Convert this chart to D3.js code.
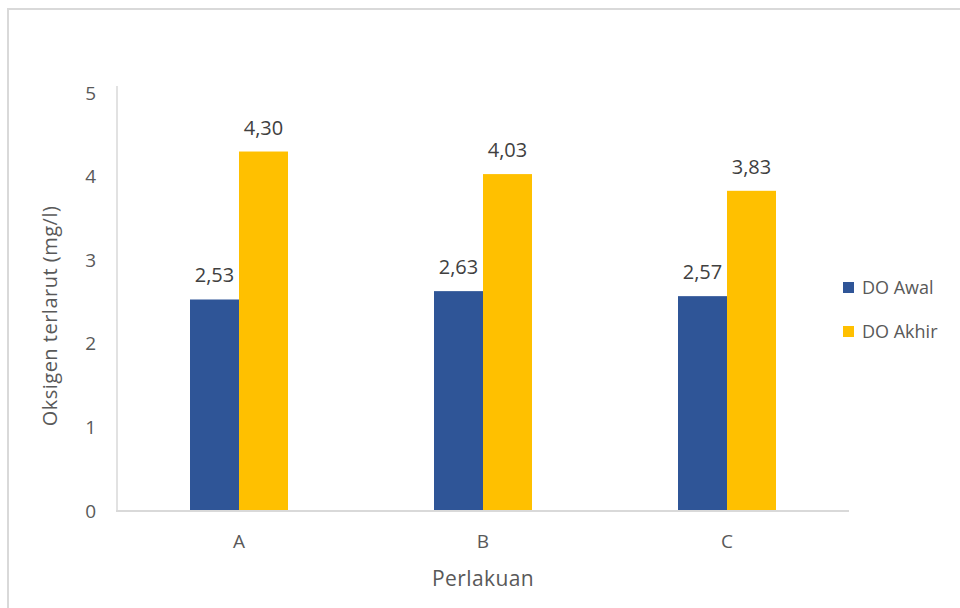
<!DOCTYPE html>
<html>
<head>
<meta charset="utf-8">
<script src="https://cdn.jsdelivr.net/npm/d3@7"></script>
<style>
  html, body { margin: 0; padding: 0; background: #fff; }
  svg { display: block; font-family: "Open Sans", sans-serif; }
</style>
</head>
<body>
<svg id="chart" width="960" height="608"></svg>
<script>
// Dissolved oxygen per treatment
const categories = ["A", "B", "C"];
const seriesNames = ["DO Awal", "DO Akhir"];
const doAwal = [2.53, 2.63, 2.57];
const doAkhir = [4.30, 4.03, 3.83];
const yTicks = [0, 1, 2, 3, 4, 5];
const colors = ["#2f5597", "#ffc000"];

const svg = d3.select("#chart");
const textColor = "#595959";
const gridColor = "#d9d9d9";

// Outer chart frame
svg.append("rect")
  .attr("x", 8).attr("y", 9).attr("width", 960).attr("height", 620)
  .attr("fill", "#fff").attr("stroke", gridColor).attr("stroke-width", 2);

const plotLeft = 117, plotRight = 849, plotTop = 93, plotBottom = 511;

const x = d3.scaleBand().domain(categories).range([plotLeft, plotRight]);
const y = d3.scaleLinear().domain([0, 5]).range([plotBottom, plotTop]);
const barW = 49;
const offsets = [-barW, 0];

// Vertical axis line
svg.append("line")
  .attr("x1", plotLeft).attr("x2", plotLeft).attr("y1", plotTop - 7).attr("y2", plotBottom)
  .attr("stroke", gridColor).attr("stroke-width", 1.5);

// Y tick labels
svg.append("g").selectAll("text").data(yTicks).join("text")
  .attr("x", 96).attr("y", d => y(d)).attr("dy", "0.35em")
  .attr("text-anchor", "end").attr("fill", textColor)
  .attr("font-size", 19).text(d => d);

// Bars with value labels
const series = [doAwal, doAkhir];
series.forEach((vals, si) => {
  const g = svg.append("g");
  g.selectAll("rect").data(categories).join("rect")
    .attr("x", (c) => x(c) + x.bandwidth() / 2 + offsets[si])
    .attr("y", (c, i) => y(vals[i]))
    .attr("width", barW)
    .attr("height", (c, i) => y(0) - y(vals[i]))
    .attr("fill", colors[si]);
  g.selectAll("text").data(categories).join("text")
    .attr("x", (c) => x(c) + x.bandwidth() / 2 + offsets[si] + barW / 2)
    .attr("y", (c, i) => y(vals[i]) - 24)
    .attr("dy", "0.35em")
    .attr("text-anchor", "middle").attr("fill", "#404040")
    .attr("font-size", 20)
    .text((c, i) => d3.format(".2f")(vals[i]).replace(".", ","));
});

// Category axis line
svg.append("line")
  .attr("x1", plotLeft - 1).attr("x2", plotRight).attr("y1", plotBottom).attr("y2", plotBottom)
  .attr("stroke", gridColor).attr("stroke-width", 2);

// X tick labels
svg.append("g").selectAll("text").data(categories).join("text")
  .attr("x", c => x(c) + x.bandwidth() / 2).attr("y", 541).attr("dy", "0.35em")
  .attr("text-anchor", "middle").attr("fill", textColor)
  .attr("font-size", 19).text(d => d);

// Axis titles
svg.append("text")
  .attr("x", x("B") + x.bandwidth() / 2).attr("y", 579).attr("dy", "0.35em")
  .attr("text-anchor", "middle").attr("fill", textColor)
  .attr("font-size", 21).attr("letter-spacing", 0.4).text("Perlakuan");

svg.append("text")
  .attr("transform", "translate(50,316) rotate(-90)")
  .attr("dy", "0.35em")
  .attr("text-anchor", "middle").attr("fill", textColor)
  .attr("font-size", 20).attr("letter-spacing", 0.5).text("Oksigen  terlarut (mg/l)");

// Legend
const legend = svg.append("g").selectAll("g").data(seriesNames).join("g")
  .attr("transform", (d, i) => `translate(843,${288 + i * 44})`);
legend.append("rect")
  .attr("x", 0).attr("y", -6).attr("width", 11).attr("height", 11)
  .attr("fill", (d, i) => colors[i]);
legend.append("text")
  .attr("x", 19).attr("y", 0).attr("dy", "0.35em")
  .attr("fill", textColor).attr("font-size", 18).text(d => d);
</script>
</body>
</html>
